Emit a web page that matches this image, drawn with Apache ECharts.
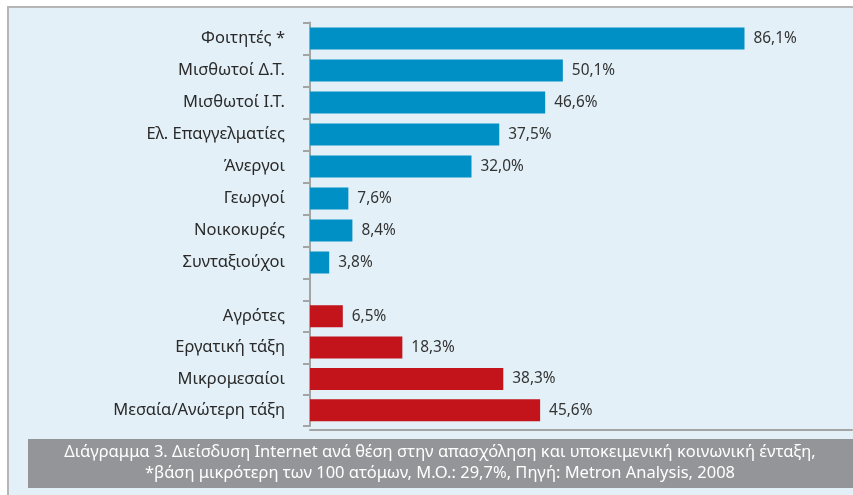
<!DOCTYPE html>
<html>
<head>
<meta charset="utf-8">
<script src="https://cdn.jsdelivr.net/npm/echarts@6/dist/echarts.min.js"></script>
<style>
  html, body { margin: 0; padding: 0; background: #fff; }
  #chart { width: 853px; height: 495px; }
</style>
</head>
<body>
<div id="chart"></div>
<script>
// occupation groups (blue)
const jobLabels = ['Φοιτητές *', 'Μισθωτοί Δ.Τ.', 'Μισθωτοί Ι.Τ.', 'Ελ. Επαγγελματίες', 'Άνεργοι', 'Γεωργοί', 'Νοικοκυρές', 'Συνταξιούχοι']
const jobValues = [86.1, 50.1, 46.6, 37.5, 32.0, 7.6, 8.4, 3.8]
// social class groups (red)
const classLabels = ['Αγρότες', 'Εργατική τάξη', 'Μικρομεσαίοι', 'Μεσαία/Ανώτερη τάξη']
const classValues = [6.5, 18.3, 38.3, 45.6]

const captionLines = [
  'Διάγραμμα 3. Διείσδυση Internet ανά θέση στην απασχόληση και υποκειμενική κοινωνική ένταξη,',
  '*βάση μικρότερη των 100 ατόμων, Μ.Ο.: 29,7%, Πηγή: Metron Analysis, 2008'
]

const FONT = 'Noto Sans'
const axisGrey = '#a3a4a6'
const xMax = 107.4

const chart = echarts.init(document.getElementById('chart'))

function yAxisFor(idx, labels) {
  return {
    type: 'category',
    gridIndex: idx,
    data: labels,
    inverse: true,
    axisLine: { show: true, lineStyle: { color: axisGrey, width: 2 } },
    axisTick: { show: true, length: 7, lineStyle: { color: axisGrey, width: 2 } },
    axisLabel: { color: '#2a2a2a', fontSize: 16.5, fontFamily: FONT, margin: 25 }
  }
}

function xAxisFor(idx, showLine) {
  return {
    type: 'value',
    gridIndex: idx,
    min: 0,
    max: xMax,
    offset: showLine ? 4 : 0,
    axisLine: { show: showLine, lineStyle: { color: axisGrey, width: 2 } },
    axisTick: { show: false },
    axisLabel: { show: false },
    splitLine: { show: false }
  }
}

function barLabel() {
  return {
    show: true,
    position: 'right',
    distance: 9,
    color: '#333',
    fontSize: 15.4,
    fontFamily: FONT,
    formatter: p => p.value.toFixed(1).replace('.', ',') + '%'
  }
}

chart.setOption({
  animation: false,
  graphic: [
    {
      type: 'rect',
      z: -10,
      shape: { x: 8, y: 7, width: 900, height: 600 },
      style: { fill: '#e3f0f7', stroke: '#b4b5b7', lineWidth: 2 }
    },
    {
      // continue the vertical axis line across the gap between the two groups
      type: 'line',
      z: 5,
      shape: { x1: 310, y1: 278, x2: 310, y2: 301 },
      style: { stroke: axisGrey, lineWidth: 2 }
    },
    {
      type: 'rect',
      z: -5,
      shape: { x: 28, y: 439, width: 830, height: 49 },
      style: { fill: '#939598' }
    },
    {
      type: 'text',
      z: 5,
      x: 440,
      y: 452,
      style: {
        text: captionLines[0],
        fill: '#fff',
        fontSize: 16.5,
        fontFamily: FONT,
        align: 'center',
        verticalAlign: 'middle'
      }
    },
    {
      type: 'text',
      z: 5,
      x: 440,
      y: 473,
      style: {
        text: captionLines[1],
        fill: '#fff',
        fontSize: 16.5,
        fontFamily: FONT,
        align: 'center',
        verticalAlign: 'middle'
      }
    }
  ],
  grid: [
    { left: 310, right: 1, top: 22.5, height: 256 },
    { left: 310, right: 1, top: 300.5, height: 125.5 }
  ],
  xAxis: [xAxisFor(0, false), xAxisFor(1, true)],
  yAxis: [yAxisFor(0, jobLabels), yAxisFor(1, classLabels)],
  series: [
    {
      type: 'bar',
      xAxisIndex: 0,
      yAxisIndex: 0,
      data: jobValues,
      barWidth: 22,
      itemStyle: { color: '#0090c5' },
      label: barLabel()
    },
    {
      type: 'bar',
      xAxisIndex: 1,
      yAxisIndex: 1,
      data: classValues,
      barWidth: 22,
      itemStyle: { color: '#c3131b' },
      label: barLabel()
    }
  ]
})
</script>
</body>
</html>
